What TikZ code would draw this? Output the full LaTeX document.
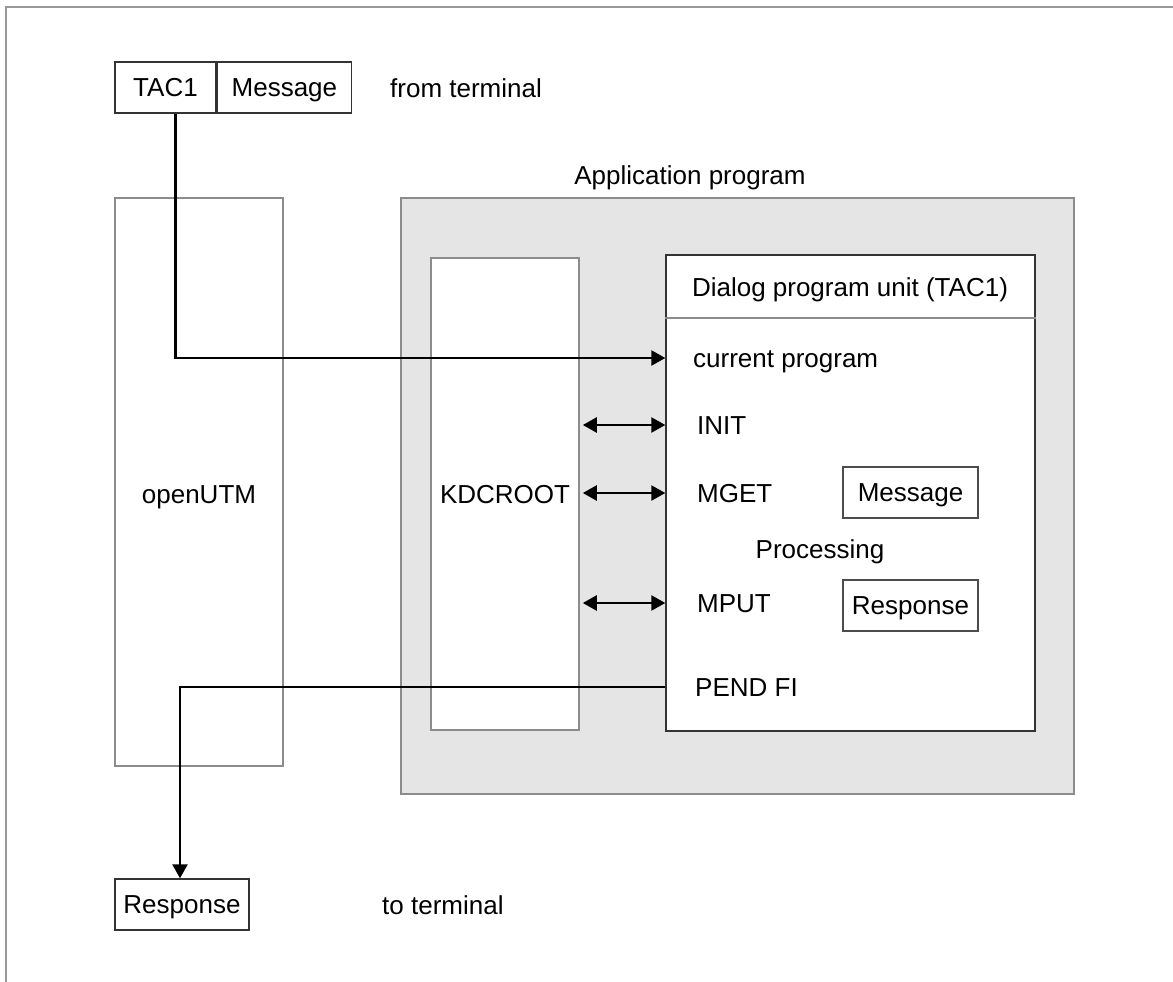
\documentclass[tikz,border=0pt]{standalone}
\usepackage{fontspec}
\setmainfont{Liberation Sans}
\usepackage{xcolor}
\usetikzlibrary{arrows.meta,positioning,calc}

\definecolor{applgray}{HTML}{E5E5E5}
\tikzset{
  box/.style={draw=black!80, line width=1.4pt, fill=white, inner sep=0pt},
  softbox/.style={draw=black!45, line width=1.6pt, fill=white, inner sep=0pt},
  txt/.style={inner sep=0pt, anchor=west},
  flow/.style={line width=2.5pt, -{Triangle[length=14pt,width=15pt]}},
  call/.style={line width=2.5pt, {Triangle[length=14pt,width=15pt]}-{Triangle[length=14pt,width=15pt]}}
}

\begin{document}
\begin{tikzpicture}[x=1pt, y=-1pt, font=\fontsize{26}{31}\selectfont,
    every node/.append style={text height=18.5pt, text depth=0pt}]
  \useasboundingbox (0,0) rectangle (1173,982);
  % outer frame
  \draw[black!40, line width=2pt] (6,982) -- (6,7) -- (1173,7);

  % incoming message
  \node[box, minimum width=101pt, minimum height=51pt] (tac) at (165.5,87.5) {TAC1};
  \node[box, minimum width=134pt, minimum height=51pt, anchor=west] (msg) at (tac.east) {Message};
  \node[txt] (from) at (390,88) {from terminal};

  % openUTM
  \node[softbox, minimum width=168pt, minimum height=568pt] (utm) at (199,482) {};
  \node (utmlabel) at (199,494) {openUTM};

  % application program
  \node[draw=black!45, line width=1.6pt, fill=applgray, minimum width=673pt, minimum height=596pt] (appl) at (737.5,496) {};
  \node (appllabel) at (690,175) {Application program};
  \node[softbox, minimum width=148pt, minimum height=472pt] (kdc) at (505,494) {KDCROOT};

  % dialog program unit
  \node[box, minimum width=369pt, minimum height=476pt] (dlg) at (850.5,493) {};
  \draw[black!45, line width=1.6pt] (dlg.west |- 0,318) -- (dlg.east |- 0,318);
  \node (title) at (850,287) {Dialog program unit (TAC1)};
  \node[txt] (cur) at (693,358) {current program};
  \node[txt] (init) at (697,425) {INIT};
  \node[txt] (mget) at (697,493) {MGET};
  \node (proc) at (820,549) {Processing};
  \node[txt] (mput) at (697,603) {MPUT};
  \node[txt] (pend) at (695,687) {PEND FI};
  \node[softbox, draw=black!70, minimum width=135pt, minimum height=51pt] (msgin) at (910.5,492.5) {Message};
  \node[softbox, draw=black!70, minimum width=135pt, minimum height=51pt] (respin) at (910.5,605.5) {Response};

  % outgoing response
  \node[box, minimum width=134pt, minimum height=51pt] (resp) at (182,904.5) {Response};
  \node[txt] (to) at (382,905) {to terminal};

  % connectors
  \draw[flow] ([xshift=10pt]tac.south) |- (dlg.west |- cur);
  \foreach \n in {init,mget,mput}
    \draw[call] ([xshift=3pt]kdc.east |- \n) -- (dlg.west |- \n);
  \draw[flow] (dlg.west |- pend) -| ([xshift=-2pt]resp.north);
\end{tikzpicture}
\end{document}
